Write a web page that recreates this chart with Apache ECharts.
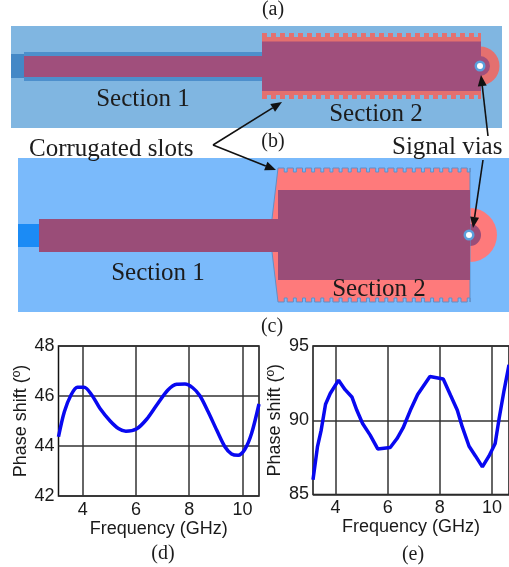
<!DOCTYPE html>
<html><head><meta charset="utf-8">
<style>html,body{margin:0;padding:0;background:#fff}#c{width:509px;height:567px}</style>
<script src="https://cdn.jsdelivr.net/npm/echarts@6/dist/echarts.min.js"></script>
</head><body><div id="c"></div>
<script>
const freqD=[3.09,3.31,3.56,3.8,4.05,4.34,4.65,5.03,5.34,5.62,6.03,6.4,6.78,7.2,7.53,7.84,8.13,8.4,8.71,9.03,9.34,9.59,9.84,10.09,10.34,10.62];
const phaseD=[44.37,45.37,46.04,46.35,46.35,46.04,45.5,45.0,44.7,44.59,44.69,45.07,45.64,46.24,46.47,46.48,46.33,46.01,45.37,44.64,43.97,43.68,43.63,43.87,44.5,45.68];
const freqE=[3.14,3.31,3.45,3.62,3.8,4.12,4.37,4.63,4.82,5.04,5.33,5.62,6.1,6.36,6.59,6.87,7.15,7.62,8.13,8.41,8.67,8.86,9.12,9.37,9.63,9.88,10.12,10.27,10.46,10.65];
const phaseE=[86.0,88.2,89.3,91.08,91.8,92.7,92.06,91.57,90.67,89.78,89.0,88.07,88.16,88.77,89.48,90.67,91.73,92.94,92.78,91.68,90.67,89.55,88.25,87.58,86.86,87.58,88.43,90.1,92.0,93.74];
const freqTicks=[4,6,8,10];
const xName='Frequency (GHz)', yName='Phase shift (º)';

function teeth(x0,x1,yOuter,yInner,pitch,duty){
  const p=[[x0,yOuter]];
  for(let x=x0;x+pitch<=x1+0.5;x+=pitch){
    p.push([x+pitch*duty,yOuter],[x+pitch*duty,yInner],[x+pitch,yInner],[x+pitch,yOuter]);
  }
  p.push([x1,yOuter]);
  return p;
}
function rect(x,y,w,h,fill){return {type:'rect',shape:{x,y,width:w,height:h},style:{fill},silent:true};}
function poly(points,fill,stroke){return {type:'polygon',shape:{points},style:{fill,stroke:stroke||null,lineWidth:stroke?1:0},silent:true};}
function semi(cx,cy,r,fill){return {type:'sector',shape:{cx,cy,r,r0:0,startAngle:-Math.PI/2,endAngle:Math.PI/2},style:{fill},silent:true};}
function circ(cx,cy,r,fill){return {type:'circle',shape:{cx,cy,r},style:{fill},silent:true};}
function serif(t,x,y,size,align){return {type:'text',x,y,style:{text:t,fill:'#1c1c1c',font:size+'px "Liberation Serif"',textAlign:align||'center',textVerticalAlign:'middle'},silent:true,z:20};}
function arrow(x0,y0,x1,y1){
  const a=Math.atan2(y1-y0,x1-x0),L=11,W=4.5;
  const bx=x1-L*Math.cos(a),by=y1-L*Math.sin(a);
  return [
    {type:'line',shape:{x1:x0,y1:y0,x2:bx,y2:by},style:{stroke:'#111',lineWidth:1.6},silent:true,z:19},
    {type:'polygon',shape:{points:[[x1,y1],[bx-W*Math.sin(a),by+W*Math.cos(a)],[bx+W*Math.sin(a),by-W*Math.cos(a)]]},style:{fill:'#111'},silent:true,z:19}
  ];
}
const pinkA='#e4706f',purpleA='#a04f7c',pinkB='#fe7a7b',purpleB='#9a4d78';
const topA=teeth(262,481,33,37,9,0.55), botA=teeth(262,481,99,95,9,0.55).reverse();
const topB=teeth(278,470,168,172,9.15,0.68), botB=teeth(278,470,302,298,9.15,0.68).reverse();
const graphics=[
  // panel (a)
  rect(11,26,491,102,'#80b6e1'),
  rect(11,54,13,24,'#4488c6'),
  rect(24,52,238,29,'#4d8fcc'),
  semi(480,66,19.5,pinkA),
  semi(480,66,10,purpleA),
  poly([...topA,...botA],pinkA),
  rect(24,56,238,21,purpleA),
  rect(262,41.5,219,49.5,purpleA),
  circ(480,66,5.5,'#5a9fdc'),circ(480,66,3,'#fff'),
  // panel (b)
  rect(18,158,491,154,'#7abafb'),
  rect(18,224,21,23,'#1b8bf5'),
  semi(470,235,27,pinkB),
  semi(470,235,11,purpleB),
  poly([[272,219],...topB,...botB,[272,252]],pinkB,'#5f8fc8'),
  rect(39,219,239,33,purpleB),
  rect(278,190,192,90,purpleB),
  circ(469,235,5.5,'#5a9fdc'),circ(469,235,3,'#fff'),
  // text
  serif('(a)',273,10,20),
  serif('(b)',273,142,20),
  serif('(c)',272,327,20),
  serif('(d)',163,554,20),
  serif('(e)',413,555,20),
  serif('Section 1',143,99,25),
  serif('Section 2',376,114,25),
  serif('Section 1',158,273,25),
  serif('Section 2',379,289,25),
  serif('Corrugated slots',29,149,25,'left'),
  serif('Signal vias',392,147,25,'left'),
  ...arrow(213,145,282,102),
  ...arrow(213,145,276,170),
  ...arrow(488,136,481,75),
  ...arrow(483,160,473,228)
];
function pairs(a,b){return a.map((v,i)=>[v,b[i]]);}
const labelStyle={color:'#1a1a1a',fontFamily:'Liberation Sans',fontSize:18};
function xAxis(i,min,max){return {gridIndex:i,type:'value',min,max,name:xName,nameLocation:'middle',nameGap:24,
  nameTextStyle:labelStyle,axisLine:{show:false},
  axisTick:{show:false,customValues:freqTicks},
  axisLabel:{...labelStyle,margin:5,customValues:freqTicks,formatter:v=>String(v)},
  splitLine:{show:true,lineStyle:{color:'#333',width:1.5}}};}
function yAxis(i,min,max,interval,gap){return {gridIndex:i,type:'value',min,max,interval,name:yName,nameLocation:'middle',nameGap:gap,
  nameTextStyle:labelStyle,axisLine:{show:false},axisTick:{show:false},
  axisLabel:{...labelStyle,margin:4},
  splitLine:{show:true,lineStyle:{color:'#333',width:1.5}}};}
function line(i,d,smooth){return {type:'line',xAxisIndex:i,yAxisIndex:i,data:d,smooth,showSymbol:false,symbol:'none',lineStyle:{color:'#0808f0',width:3.5},z:5};}
const chart=echarts.init(document.getElementById('c'),null,{renderer:'canvas'});
chart.setOption({
  animation:false,backgroundColor:'#fff',
  grid:[
    {left:58.5,top:346,width:200.5,height:150,show:true,borderColor:'#111',borderWidth:1.5,backgroundColor:'transparent'},
    {left:313,top:346,width:196,height:148.5,show:true,borderColor:'#111',borderWidth:1.5,backgroundColor:'transparent'}
  ],
  xAxis:[xAxis(0,3.09,10.62),xAxis(1,3.14,10.65)],
  yAxis:[yAxis(0,42,48,2,28),yAxis(1,85,95,5,29)],
  series:[line(0,pairs(freqD,phaseD),0.3),line(1,pairs(freqE,phaseE),false)],
  graphic:{elements:graphics}
});
</script></body></html>
